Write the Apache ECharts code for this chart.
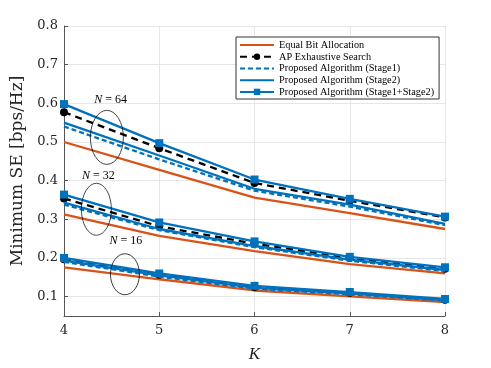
<!DOCTYPE html>
<html>
<head>
<meta charset="utf-8">
<script src="https://cdn.jsdelivr.net/npm/echarts@6/dist/echarts.min.js"></script>
<style>
html,body{margin:0;padding:0;background:#fff;}
#chart{width:491px;height:368px;}
</style>
</head>
<body>
<div id="chart"></div>
<script>
// x values
var K=[4,5,6,7,8];
var yTicks=[0.1,0.2,0.3,0.4,0.5,0.6,0.7,0.8];

// Equal Bit Allocation
var equalBit64=[0.500,0.428,0.356,0.316,0.275];
var equalBit32=[0.313,0.257,0.218,0.184,0.160];
var equalBit16=[0.176,0.145,0.116,0.101,0.086];
// AP Exhaustive Search
var exhaustive64=[0.577,0.484,0.394,0.348,0.305];
var exhaustive32=[0.354,0.282,0.237,0.200,0.172];
var exhaustive16=[0.197,0.157,0.125,0.110,0.092];
// Proposed (Stage1)
var stage1_64=[0.540,0.455,0.374,0.333,0.285];
var stage1_32=[0.338,0.272,0.228,0.193,0.166];
var stage1_16=[0.190,0.152,0.121,0.106,0.090];
// Proposed (Stage2)
var stage2_64=[0.550,0.465,0.379,0.338,0.288];
var stage2_32=[0.343,0.275,0.231,0.196,0.169];
var stage2_16=[0.193,0.155,0.123,0.108,0.091];
// Proposed (Stage1+Stage2)
var joint64=[0.598,0.497,0.403,0.353,0.307];
var joint32=[0.364,0.292,0.243,0.203,0.176];
var joint16=[0.200,0.160,0.128,0.112,0.094];

// annotations: text at [K,value]; ellipse centre [K,value] plus radii in px
var annoLabels=['64','32','16'];
var annoText=[[4.49,0.609],[4.36,0.412],[4.65,0.244]];
var annoEllipse=[[4.45,0.512,16.5,27],[4.34,0.326,15,26],[4.64,0.158,14.5,20.5]];

var ORANGE='#D95319',BLUE='#0072BD',FONT='Liberation Serif',NUMFONT='DejaVu Serif';

function pairs(ys){
	var out=[];
	for(var i=0;i<K.length;i++){out.push([K[i],ys[i]]);}
	return out;
}
function mk(name,ys,color,type,symbol,z){
	return {
		name:name,type:'line',data:pairs(ys),z:z,
		symbol:symbol||'none',symbolSize:8,
		showSymbol:!!symbol,
		lineStyle:{color:color,width:2.3,type:type},
		itemStyle:{color:color,borderColor:color,borderWidth:0},
		animation:false
	};
}

var names=['Equal Bit Allocation','AP Exhaustive Search','Proposed Algorithm (Stage1)','Proposed Algorithm (Stage2)','Proposed Algorithm (Stage1+Stage2)'];
var hasMarker=[false,true,false,false,true];
var legendData=[];
for(var n=0;n<names.length;n++){
	if(hasMarker[n]){
		legendData.push({name:names[n]});
	}else{
		legendData.push({name:names[n],itemStyle:{opacity:0,color:'rgba(0,0,0,0)',borderColor:'rgba(0,0,0,0)'}});
	}
}

var series=[];
[equalBit64,equalBit32,equalBit16].forEach(function(d){series.push(mk(names[0],d,ORANGE,'solid',null,2));});
[exhaustive64,exhaustive32,exhaustive16].forEach(function(d){series.push(mk(names[1],d,'#000',[7,5],'circle',3));});
[stage1_64,stage1_32,stage1_16].forEach(function(d){series.push(mk(names[2],d,BLUE,[5,3],null,4));});
[stage2_64,stage2_32,stage2_16].forEach(function(d){series.push(mk(names[3],d,BLUE,'solid',null,5));});
[joint64,joint32,joint16].forEach(function(d){series.push(mk(names[4],d,BLUE,'solid','rect',6));});

var chart=echarts.init(document.getElementById('chart'));
var option={
	backgroundColor:'#fff',
	animation:false,
	grid:{left:64,right:46,top:26,bottom:49},
	legend:{
		data:legendData,orient:'vertical',left:236,top:37,
		itemWidth:34,itemHeight:8,itemGap:1.5,
		padding:[3,5,2,3],
		borderColor:'#333',borderWidth:1,backgroundColor:'#fff',
		textStyle:{fontFamily:FONT,fontSize:10.3,lineHeight:10.2,color:'#000'}
	},
	xAxis:{
		type:'value',min:4,max:8,interval:1,
		name:'K',nameLocation:'middle',nameGap:30,
		nameTextStyle:{fontFamily:FONT,fontSize:17,fontStyle:'italic',color:'#222'},
		axisLine:{lineStyle:{color:'#555',width:1}},
		axisTick:{inside:true,length:4,lineStyle:{color:'#555'}},
		axisLabel:{fontFamily:NUMFONT,fontSize:13,color:'#262626',margin:8},
		splitLine:{show:true,lineStyle:{color:'#e6e6e6',width:1}}
	},
	yAxis:{
		type:'value',min:0.05,max:0.8,minInterval:0.1,maxInterval:0.1,
		name:'Minimum SE [bps/Hz]',nameLocation:'middle',nameGap:31,
		nameTextStyle:{fontFamily:NUMFONT,fontSize:17,color:'#262626'},
		axisLine:{show:true,lineStyle:{color:'#555',width:1}},
		axisTick:{inside:true,length:4,lineStyle:{color:'#555'}},
		axisLabel:{fontFamily:NUMFONT,fontSize:13,color:'#262626',margin:6,
			formatter:function(v){
				for(var i=0;i<yTicks.length;i++){if(Math.abs(v-yTicks[i])<1e-6)return yTicks[i].toFixed(1);}
				return '';
			}},
		splitLine:{show:true,lineStyle:{color:'#e6e6e6',width:1}}
	},
	series:series
};
chart.setOption(option);

// place N annotations using data coordinates
var gr=[];
for(var i=0;i<annoLabels.length;i++){
	var tp=chart.convertToPixel({gridIndex:0},annoText[i]);
	var ep=chart.convertToPixel({gridIndex:0},[annoEllipse[i][0],annoEllipse[i][1]]);
	gr.push({
		type:'text',x:tp[0],y:tp[1],z:20,
		style:{text:'{i|N} = '+annoLabels[i],align:'center',verticalAlign:'middle',
			font:'12px "Liberation Serif"',fill:'#000',
			rich:{i:{fontFamily:FONT,fontStyle:'italic',fontSize:12}}}
	});
	gr.push({
		type:'circle',x:ep[0],y:ep[1],z:20,
		scaleX:annoEllipse[i][2]/annoEllipse[i][3],
		shape:{cx:0,cy:0,r:annoEllipse[i][3]},
		style:{fill:'none',stroke:'#000',lineWidth:0.9,strokeNoScale:true}
	});
}
chart.setOption({graphic:gr});
</script>
</body>
</html>
